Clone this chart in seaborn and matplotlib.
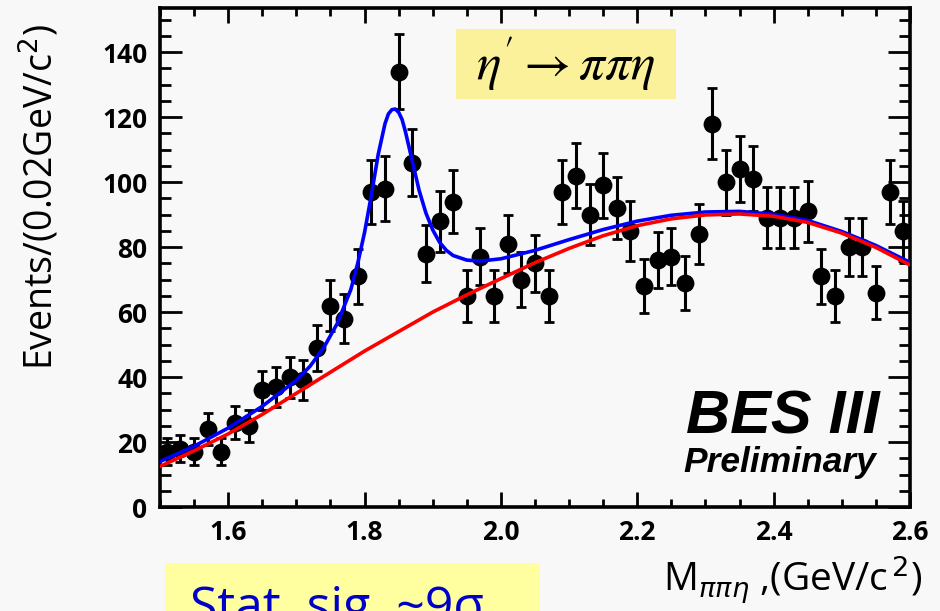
import matplotlib
matplotlib.use("Agg")
import matplotlib.pyplot as plt
import matplotlib.ticker as mticker
from matplotlib.patches import Rectangle
import pandas as pd
import seaborn as sns

# bin centres (GeV/c^2), 0.02 GeV bins
mass = [1.51, 1.53, 1.55, 1.57, 1.59, 1.61, 1.63, 1.65, 1.67, 1.69,
        1.71, 1.73, 1.75, 1.77, 1.79, 1.81, 1.83, 1.85, 1.87, 1.89,
        1.91, 1.93, 1.95, 1.97, 1.99, 2.01, 2.03, 2.05, 2.07, 2.09,
        2.11, 2.13, 2.15, 2.17, 2.19, 2.21, 2.23, 2.25, 2.27, 2.29,
        2.31, 2.33, 2.35, 2.37, 2.39, 2.41, 2.43, 2.45, 2.47, 2.49,
        2.51, 2.53, 2.55, 2.57, 2.59]
events = [17, 18, 17, 24, 17, 26, 25, 36, 37, 40,
          39, 49, 62, 58, 71, 97, 98, 134, 106, 78,
          88, 94, 65, 77, 65, 81, 70, 75, 65, 97,
          102, 90, 99, 92, 85, 68, 76, 77, 69, 84,
          118, 100, 104, 101, 89, 89, 89, 91, 71, 65,
          80, 80, 66, 97, 85]
errors = [4.1, 4.2, 4.1, 4.9, 4.1, 5.1, 5.0, 6.0, 6.1, 6.3,
          6.2, 7.0, 7.9, 7.6, 8.4, 9.8, 9.9, 11.6, 10.3, 8.8,
          9.4, 9.7, 8.1, 8.8, 8.1, 9.0, 8.4, 8.7, 8.1, 9.8,
          10.1, 9.5, 9.9, 9.6, 9.2, 8.2, 8.7, 8.8, 8.3, 9.2,
          10.9, 10.0, 10.2, 10.0, 9.4, 9.4, 9.4, 9.5, 8.4, 8.1,
          8.9, 8.9, 8.1, 9.8, 9.2]

# fit curves
tot_mass = [1.50, 1.55, 1.60, 1.65, 1.70, 1.72, 1.74, 1.76, 1.78, 1.79,
            1.80, 1.81, 1.82, 1.83, 1.835, 1.84, 1.845, 1.85, 1.855, 1.86,
            1.87, 1.88, 1.89, 1.90, 1.91, 1.92, 1.93, 1.95, 1.97, 2.00,
            2.05, 2.10, 2.15, 2.20, 2.25, 2.30, 2.35, 2.40, 2.45, 2.50,
            2.55, 2.60]
tot_fit = [14.0, 18.7, 24.3, 31.0, 39.0, 43.3, 49.0, 56.5, 67.0, 75.0,
           84.5, 96.0, 108.5, 118.0, 121.0, 122.3, 122.5, 121.5, 119.3, 115.5,
           106.5, 97.5, 90.5, 85.3, 81.5, 79.0, 77.4, 76.0, 75.7, 76.4,
           79.0, 82.3, 85.4, 88.0, 89.8, 90.8, 91.0, 90.1, 88.2, 84.8,
           80.5, 75.3]
bkg_mass = [1.50, 1.55, 1.60, 1.65, 1.70, 1.75, 1.80, 1.85, 1.90, 1.95,
            2.00, 2.05, 2.10, 2.15, 2.20, 2.25, 2.30, 2.35, 2.40, 2.45,
            2.50, 2.55, 2.60]
bkg_fit = [12.5, 17.3, 22.5, 28.5, 35.0, 41.5, 48.0, 54.0, 60.0, 65.3,
           70.3, 75.2, 79.6, 83.5, 86.6, 88.7, 89.9, 90.2, 89.5, 87.6,
           84.3, 79.9, 74.5]

sns.set_style("ticks")
plt.rcParams["font.family"] = ["Open Sans", "DejaVu Sans"]
plt.rcParams.update({"text.color": "black", "xtick.color": "black",
                     "ytick.color": "black", "axes.edgecolor": "black"})

bg = "#f8f8f8"
W, H = 940, 611
fig = plt.figure(figsize=(9.4, 6.11), dpi=100, facecolor=bg)
ax = fig.add_axes([160 / W, 104 / H, 750 / W, 499 / H])
ax.set_facecolor(bg)

data = pd.DataFrame({"mass": mass, "events": events, "err": errors})
ax.errorbar(data["mass"], data["events"], yerr=data["err"], fmt="none",
            ecolor="black", elinewidth=2.2, capsize=3.5, capthick=2, zorder=2)
sns.scatterplot(data=data, x="mass", y="events", ax=ax, color="black",
                s=165, linewidth=0, zorder=3, legend=False)
sns.lineplot(x=tot_mass, y=tot_fit, ax=ax, color="#0000ff", lw=2.6, zorder=4)
sns.lineplot(x=bkg_mass, y=bkg_fit, ax=ax, color="#ff0000", lw=2.6, zorder=5)

ax.set_xlim(1.5, 2.6)
ax.set_ylim(0, 153.6)
ax.set_xlabel("")
ax.set_ylabel("")

ax.xaxis.set_major_locator(mticker.MultipleLocator(0.2))
ax.xaxis.set_minor_locator(mticker.MultipleLocator(0.05))
ax.yaxis.set_major_locator(mticker.MultipleLocator(20))
ax.yaxis.set_minor_locator(mticker.MultipleLocator(5))
ax.xaxis.set_major_formatter(mticker.FormatStrFormatter("%.1f"))
ax.yaxis.set_major_formatter(mticker.FormatStrFormatter("%d"))

ax.tick_params(axis="x", which="major", direction="in", length=10.5, width=2,
               top=True, labelsize=19, pad=9, colors="black")
ax.tick_params(axis="x", which="minor", direction="in", length=6, width=2, top=True)
ax.tick_params(axis="y", which="major", direction="in", length=16, width=2,
               right=True, labelsize=19, pad=9, colors="black")
ax.tick_params(axis="y", which="minor", direction="in", length=8, width=2, right=True)
for lab in ax.get_xticklabels() + ax.get_yticklabels():
    lab.set_fontweight("bold")
for sp in ax.spines.values():
    sp.set_linewidth(2.6)
    sp.set_color("black")

# axis titles
fig.text(40 / W, 1 - 197 / H, r"Events/(0.02GeV/c$^{2}$)", rotation=90,
         ha="center", va="center", fontsize=27)
fig.text(922 / W, 1 - 592 / H, r"M$_{\pi\pi\eta}$ ,(GeV/c$^{\,2}$)",
         ha="right", va="baseline", fontsize=28)

# decay label box
fig.patches.append(Rectangle((456 / W, 1 - 99 / H), 220 / W, 70 / H,
                             transform=fig.transFigure, facecolor="#fbf19b",
                             edgecolor="none", zorder=1))
fig.text(566 / W, 1 - 64 / H, r"$\eta' \rightarrow \pi\pi\eta$", ha="center",
         va="center", fontsize=37, math_fontfamily="stix", zorder=2)

# experiment label
fig.text(880 / W, 1 - 433 / H, "BES III", ha="right", va="baseline",
         fontsize=44, fontweight="bold", fontstyle="italic",
         family="Liberation Sans")
fig.text(876 / W, 1 - 472 / H, "Preliminary", ha="right", va="baseline",
         fontsize=25.5, fontweight="bold", fontstyle="italic",
         family="Liberation Sans")

# significance box (cut by the bottom edge, as in the original slide)
fig.patches.append(Rectangle((165 / W, 0), 375 / W, 48 / H,
                             transform=fig.transFigure, facecolor="#ffff9f",
                             edgecolor="none", zorder=1))
fig.text(190 / W, -11 / H, "Stat. sig. ~9σ", ha="left", va="baseline",
         fontsize=36, color="#0000c8", zorder=2)

fig.savefig("out.png", dpi=100, facecolor=bg)
